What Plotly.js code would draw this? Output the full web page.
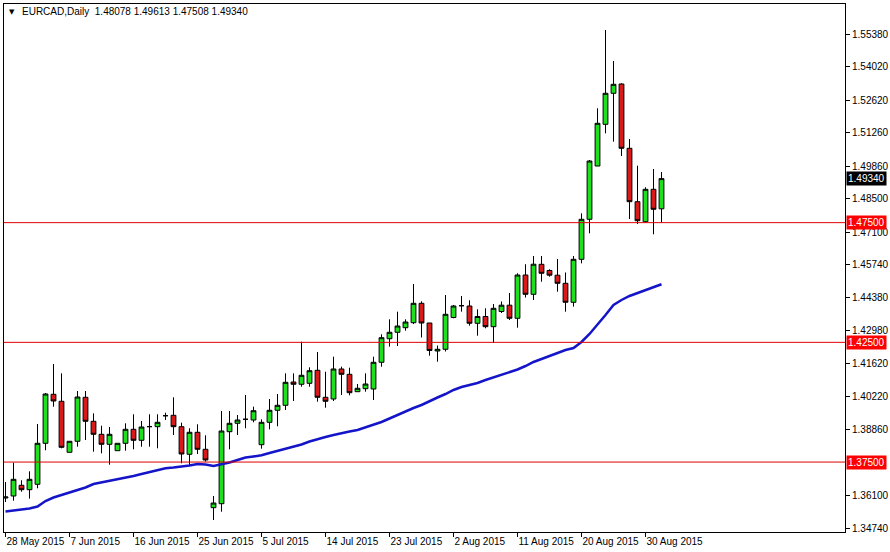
<!DOCTYPE html>
<html>
<head>
<meta charset="utf-8">
<script src="https://cdn.plot.ly/plotly-3.0.1.min.js"></script>
<style>
html,body{margin:0;padding:0;background:#fff;}
#chart{width:890px;height:552px;}
</style>
</head>
<body>
<div id="chart"></div>
<script>
// ---- data ----
const symbolTitle = 'EURCAD,Daily';
const lastBar = ['1.48078', '1.49613', '1.47508', '1.49340'];

const dates = [
'2015-05-28','2015-05-29','2015-05-31','2015-06-01','2015-06-02','2015-06-03','2015-06-04','2015-06-05',
'2015-06-07','2015-06-08','2015-06-09','2015-06-10','2015-06-11','2015-06-12','2015-06-14','2015-06-15',
'2015-06-16','2015-06-17','2015-06-18','2015-06-19','2015-06-21','2015-06-22','2015-06-23','2015-06-24',
'2015-06-25','2015-06-26','2015-06-28','2015-06-29','2015-06-30','2015-07-01','2015-07-02','2015-07-03',
'2015-07-05','2015-07-06','2015-07-07','2015-07-08','2015-07-09','2015-07-10','2015-07-12','2015-07-13',
'2015-07-14','2015-07-15','2015-07-16','2015-07-17','2015-07-19','2015-07-20','2015-07-21','2015-07-22',
'2015-07-23','2015-07-24','2015-07-26','2015-07-27','2015-07-28','2015-07-29','2015-07-30','2015-07-31',
'2015-08-02','2015-08-03','2015-08-04','2015-08-05','2015-08-06','2015-08-07','2015-08-09','2015-08-10',
'2015-08-11','2015-08-12','2015-08-13','2015-08-14','2015-08-16','2015-08-17','2015-08-18','2015-08-19',
'2015-08-20','2015-08-21','2015-08-23','2015-08-24','2015-08-25','2015-08-26','2015-08-27','2015-08-28',
'2015-08-30','2015-08-31','2015-09-01'];

const openP = [
1.35998,1.36082,1.36529,1.36345,1.36571,1.38283,1.40330,1.40038,
1.37907,1.38367,1.40205,1.39202,1.38659,1.38241,1.37974,1.38283,
1.38868,1.38408,1.38980,1.38977,1.39436,1.39453,1.38977,1.37824,
1.38743,1.38033,1.35593,1.35760,1.38768,1.39119,1.39286,1.39256,
1.38225,1.39160,1.39662,1.39870,1.40844,1.40748,1.40789,1.41332,
1.40205,1.40134,1.41387,1.41165,1.40439,1.40564,1.40551,1.41667,
1.42652,1.42920,1.43112,1.43321,1.44131,1.43308,1.42139,1.42210,
1.43538,1.44031,1.44018,1.43296,1.43580,1.43154,1.43789,1.44052,
1.43505,1.45313,1.44507,1.45760,1.45501,1.45305,1.44966,1.44173,
1.45969,1.47640,1.49866,1.51608,1.52903,1.53291,1.50606,1.48375,
1.47540,1.48893,1.48078];

const highP = [
1.36667,1.37473,1.36738,1.37114,1.39089,1.40384,1.41596,1.41207,
1.38367,1.40468,1.40468,1.39536,1.39018,1.38964,1.38283,1.39119,
1.39495,1.39215,1.39495,1.39495,1.39561,1.40205,1.39144,1.38910,
1.39077,1.38617,1.36082,1.39632,1.39632,1.39465,1.40301,1.39812,
1.39286,1.40134,1.40342,1.41207,1.41207,1.42527,1.41458,1.42097,
1.41274,1.41901,1.41483,1.41441,1.40760,1.41207,1.41901,1.42836,
1.43463,1.43780,1.43463,1.44937,1.44215,1.43308,1.42368,1.44478,
1.44060,1.44436,1.44256,1.43880,1.43922,1.44102,1.44206,1.44561,
1.45384,1.45764,1.46107,1.46107,1.45551,1.45982,1.45418,1.46107,
1.47890,1.50117,1.52276,1.55547,1.54252,1.53321,1.50994,1.49879,
1.48977,1.49741,1.49613];

const lowP = [
1.35831,1.35886,1.36261,1.35969,1.36403,1.37991,1.39812,1.38074,
1.37907,1.38141,1.38421,1.37932,1.37865,1.37389,1.37974,1.37974,
1.38033,1.38141,1.38141,1.38074,1.39256,1.38630,1.37448,1.37377,
1.37836,1.37515,1.35079,1.35426,1.38033,1.38630,1.38910,1.39160,
1.38058,1.38868,1.38993,1.39674,1.40050,1.40647,1.40647,1.40021,
1.39770,1.40050,1.40301,1.40288,1.40439,1.40439,1.40092,1.41483,
1.42318,1.42347,1.42987,1.43266,1.42703,1.41942,1.41692,1.42118,
1.43505,1.43780,1.43195,1.42778,1.43087,1.42473,1.43726,1.43434,
1.43112,1.44373,1.44269,1.45033,1.45242,1.44616,1.43780,1.43989,
1.45802,1.47055,1.49866,1.51232,1.50881,1.50284,1.47652,1.47444,
1.47498,1.47013,1.47508];

const closeP = [
1.36040,1.36779,1.36345,1.36779,1.38283,1.40342,1.40050,1.38116,
1.38367,1.40217,1.39202,1.38659,1.38241,1.38659,1.38283,1.38868,
1.38408,1.38964,1.38980,1.39160,1.39436,1.38977,1.37836,1.38743,
1.38033,1.37586,1.35789,1.38797,1.39119,1.39256,1.39286,1.39645,
1.39160,1.39662,1.39870,1.40831,1.40748,1.41124,1.41316,1.40205,
1.40038,1.41387,1.41165,1.40397,1.40581,1.40760,1.41667,1.42694,
1.42920,1.43183,1.43350,1.44131,1.43308,1.42160,1.42210,1.43672,
1.44018,1.44031,1.43296,1.43580,1.43154,1.43922,1.44052,1.43505,
1.45313,1.44507,1.45764,1.45384,1.45305,1.44966,1.44173,1.45969,
1.47640,1.50075,1.51650,1.52903,1.53279,1.50606,1.48375,1.47581,
1.48893,1.48058,1.49340];

const movingAvg = [
1.35434,1.35476,1.35518,1.35560,1.35643,1.35873,1.36019,1.36124,
1.36207,1.36332,1.36437,1.36583,1.36646,1.36708,1.36771,1.36855,
1.36917,1.37001,1.37084,1.37168,1.37239,1.37272,1.37306,1.37356,
1.37419,1.37398,1.37335,1.37398,1.37481,1.37586,1.37690,1.37732,
1.37782,1.37878,1.37962,1.38045,1.38129,1.38233,1.38358,1.38463,
1.38546,1.38630,1.38713,1.38776,1.38839,1.38943,1.39048,1.39173,
1.39319,1.39465,1.39632,1.39758,1.39883,1.40050,1.40196,1.40342,
1.40510,1.40635,1.40718,1.40802,1.40927,1.41032,1.41136,1.41241,
1.41366,1.41512,1.41679,1.41804,1.41930,1.42055,1.42180,1.42264,
1.42515,1.42849,1.43225,1.43642,1.44060,1.44269,1.44436,1.44561,
1.44687,1.44812,1.44925];

const xTickDates = ['2015-05-28','2015-06-07','2015-06-16','2015-06-25','2015-07-05','2015-07-14',
                    '2015-07-23','2015-08-02','2015-08-11','2015-08-20','2015-08-30'];
const xTickText  = ['28 May 2015','7 Jun 2015','16 Jun 2015','25 Jun 2015','5 Jul 2015','14 Jul 2015',
                    '23 Jul 2015','2 Aug 2015','11 Aug 2015','20 Aug 2015','30 Aug 2015'];

const yTickVals = [1.55380,1.54020,1.52620,1.51260,1.49860,1.48500,1.47100,1.45740,
                   1.44380,1.42980,1.41620,1.40220,1.38860,1.36100,1.34740];
const yTickText = ['1.55380','1.54020','1.52620','1.51260','1.49860','1.48500','1.47100','1.45740',
                   '1.44380','1.42980','1.41620','1.40220','1.38860','1.36100','1.34740'];

const levelLines = [1.47500, 1.42500, 1.37500];
const levelLabels = ['1.47500', '1.42500', '1.37500'];
const currentPrice = 1.49340;
const currentLabel = '1.49340';

// ---- styling ----
const FONT = 'Liberation Sans, Arial, sans-serif';
const GREEN = '#1fe01f';
const RED = '#d81a1a';
const LEVEL = '#e00000';

const candle = {
  type: 'candlestick',
  x: dates, open: openP, high: highP, low: lowP, close: closeP,
  increasing: {fillcolor: GREEN, line: {color: '#000000', width: 1}},
  decreasing: {fillcolor: RED, line: {color: '#000000', width: 1}},
  whiskerwidth: 0,
  hoverinfo: 'skip',
  showlegend: false
};

const ma = {
  type: 'scatter', mode: 'lines',
  x: dates, y: movingAvg,
  line: {color: '#1414c8', width: 2.5},
  hoverinfo: 'skip', showlegend: false
};

const shapes = levelLines.map(v => ({
  type: 'line', xref: 'paper', x0: 0, x1: 1, yref: 'y', y0: v, y1: v,
  line: {color: LEVEL, width: 1}, layer: 'above'
}));

const annotations = levelLines.map((v, k) => ({
  xref: 'paper', x: 1, xanchor: 'left', xshift: 1,
  yref: 'y', y: v, yanchor: 'middle',
  text: levelLabels[k], showarrow: false,
  bgcolor: '#ff0000', borderpad: 1,
  font: {family: FONT, size: 10, color: '#ffffff'}
}));
annotations.push({
  xref: 'paper', x: 1, xanchor: 'left', xshift: 1,
  yref: 'y', y: currentPrice, yanchor: 'middle',
  text: currentLabel, showarrow: false,
  bgcolor: '#000000', borderpad: 1,
  font: {family: FONT, size: 10, color: '#ffffff'}
});
annotations.push({
  xref: 'paper', x: 0.004, xanchor: 'left',
  yref: 'paper', y: 0.985, yanchor: 'middle',
  text: '▼', showarrow: false,
  font: {family: 'DejaVu Sans', size: 7, color: '#000000'}
});
annotations.push({
  xref: 'paper', x: 0.019, xanchor: 'left',
  yref: 'paper', y: 0.985, yanchor: 'middle',
  text: symbolTitle + '  ' + lastBar.join(' '), showarrow: false,
  font: {family: FONT, size: 10, color: '#000000'}
});

const layout = {
  width: 890, height: 552,
  margin: {l: 4, r: 45, t: 4, b: 20, pad: 0},
  paper_bgcolor: '#ffffff', plot_bgcolor: '#ffffff',
  boxgap: 0.4, boxgroupgap: 0,
  showlegend: false,
  xaxis: {
    type: 'category', range: [-0.1875, 104.9375],
    showline: true, mirror: true, linecolor: '#000000', linewidth: 1,
    ticks: 'outside', ticklen: 4, tickcolor: '#000000',
    tickmode: 'array', tickvals: xTickDates, ticktext: xTickText,
    tickangle: 0,
    ticklabelposition: 'outside right',
    tickfont: {family: FONT, size: 10, color: '#000000'},
    showgrid: false, zeroline: false,
    rangeslider: {visible: false}, fixedrange: true
  },
  yaxis: {
    side: 'right', range: [1.34578, 1.56633],
    showline: true, mirror: true, linecolor: '#000000', linewidth: 1,
    ticks: 'outside', ticklen: 4, tickcolor: '#000000',
    tickmode: 'array', tickvals: yTickVals, ticktext: yTickText,
    tickfont: {family: FONT, size: 10, color: '#000000'},
    showgrid: false, zeroline: false, fixedrange: true
  },
  shapes: shapes,
  annotations: annotations
};

Plotly.newPlot('chart', [ma, candle], layout, {staticPlot: true, displayModeBar: false});
</script>
</body>
</html>
